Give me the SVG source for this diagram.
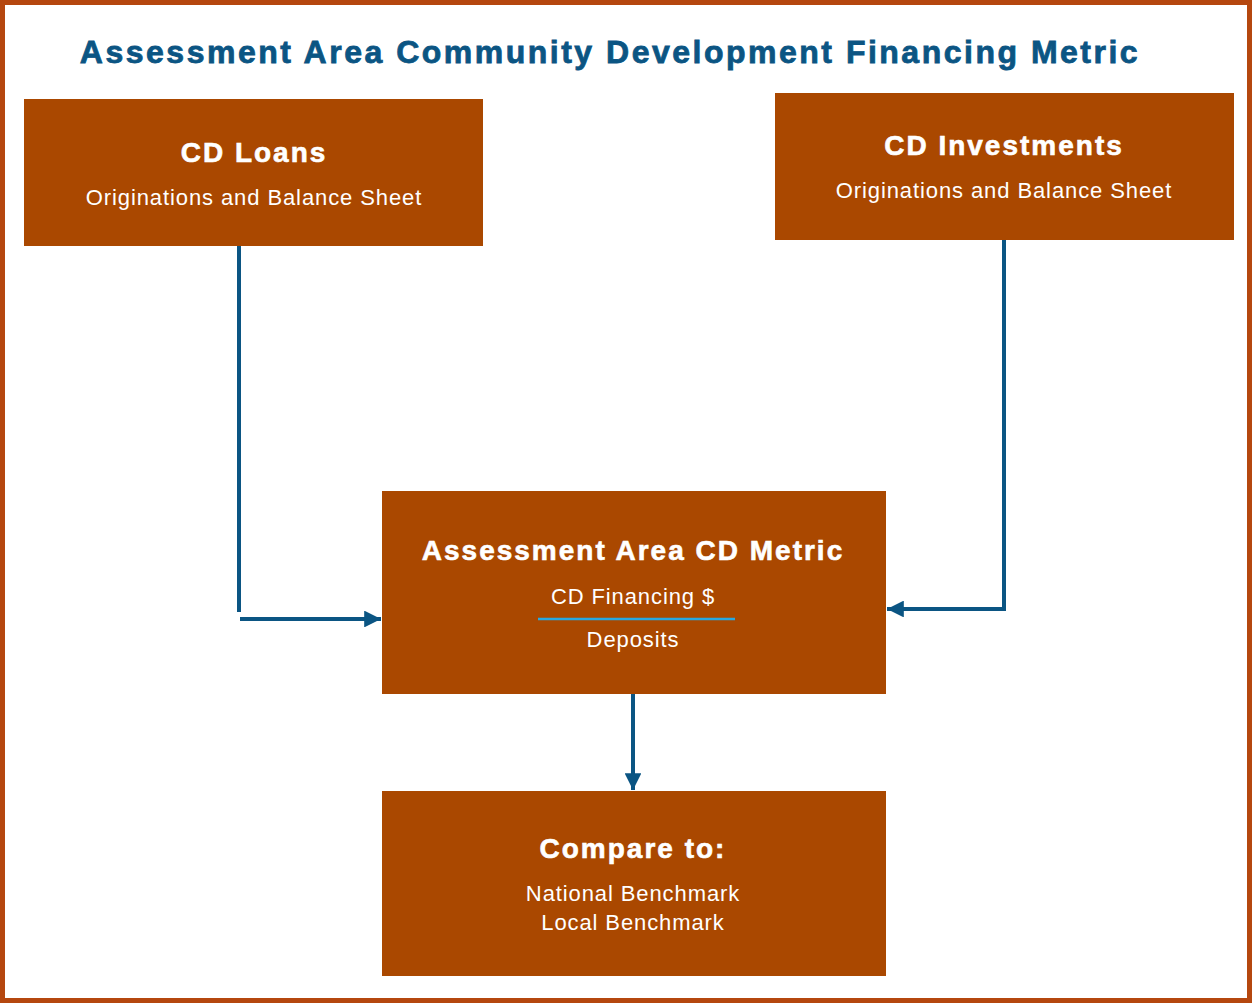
<svg xmlns="http://www.w3.org/2000/svg" width="1252" height="1003" viewBox="0 0 1252 1003">
<defs>
<style>
.box{fill:#AA4800}
.h{font-family:"Liberation Sans",Arial,sans-serif;font-weight:bold;fill:#fff;stroke:#fff;stroke-width:0.6;text-anchor:middle;font-size:28px;letter-spacing:2px}
.t{font-family:"Liberation Sans",Arial,sans-serif;fill:#fff;text-anchor:middle;font-size:22px;letter-spacing:0.9px}
.c{stroke:#0B5583;stroke-width:4;fill:none}
</style>
<marker id="ah" viewBox="0 0 10 10" refX="10" refY="5" markerWidth="4.2" markerHeight="4.2" orient="auto" markerUnits="strokeWidth">
<path d="M0,0 L10,5 L0,10 z" fill="#0B5583"/>
</marker>
</defs>
<rect x="0" y="0" width="1252" height="1003" fill="#fff"/>
<rect x="2.5" y="2.5" width="1247" height="998" fill="none" stroke="#B5470F" stroke-width="5"/>
<text x="610" y="63" font-family="Liberation Sans,Arial,sans-serif" font-weight="bold" font-size="32" fill="#0B5583" stroke="#0B5583" stroke-width="0.8" text-anchor="middle" letter-spacing="2.5">Assessment Area Community Development Financing Metric</text>
<g id="connectors">
<path class="c" d="M239,242 V612"/>
<path class="c" d="M240,619 H381" marker-end="url(#ah)"/>
<path class="c" d="M1004,240 V609 H887" marker-end="url(#ah)"/>
<path class="c" d="M633,694 V790" marker-end="url(#ah)"/>
</g>
<g id="cd-loans">
<rect class="box" x="24" y="99" width="459" height="147"/>
<text class="h" x="254" y="162">CD Loans</text>
<text class="t" x="254" y="205">Originations and Balance Sheet</text>
</g>
<g id="cd-investments">
<rect class="box" x="775" y="93" width="459" height="147"/>
<text class="h" x="1004" y="155">CD Investments</text>
<text class="t" x="1004" y="198">Originations and Balance Sheet</text>
</g>
<g id="cd-metric">
<rect class="box" x="382" y="491" width="504" height="203"/>
<text class="h" x="633" y="560">Assessment Area CD Metric</text>
<text class="t" x="633" y="604">CD Financing $</text>
<line x1="538" y1="619" x2="735" y2="619" stroke="#29A8E0" stroke-width="2.5"/>
<text class="t" x="633" y="647">Deposits</text>
</g>
<g id="compare">
<rect class="box" x="382" y="791" width="504" height="185"/>
<text class="h" x="633" y="858">Compare to:</text>
<text class="t" x="633" y="901">National Benchmark</text>
<text class="t" x="633" y="930">Local Benchmark</text>
</g>
</svg>
